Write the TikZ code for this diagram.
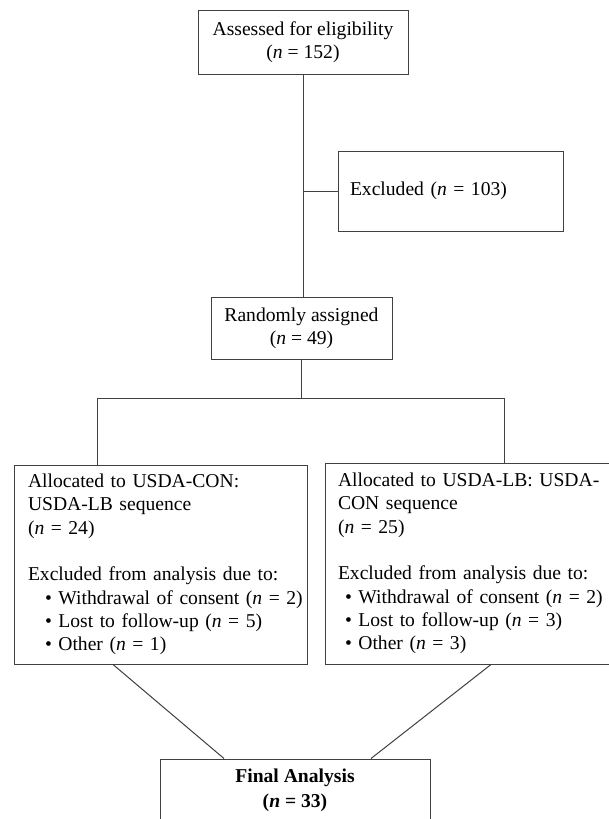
\documentclass[tikz,border=0pt]{standalone}
\usepackage{fontspec}
\setmainfont{Liberation Serif}
\begin{document}
\begin{tikzpicture}[x=1pt,y=-1pt,
  box/.style={draw=black!75, line width=1pt, rectangle, inner ysep=0pt,
    font=\fontsize{19.6}{23.3}\selectfont},
  link/.style={draw=black!75, line width=1pt}]
\useasboundingbox (0,0) rectangle (609,819);
\clip (0,0) rectangle (609,819);
\fill[white] (0,0) rectangle (609,819);
% nodes
\node[box, inner xsep=0pt, minimum width=210pt, minimum height=64pt, align=center]
  (assess) at (303,42) {Assessed for eligibility\\(\textit{n} = 152)};
\node[box, inner xsep=12pt, text width=201pt, minimum height=80pt, align=left]
  (excl) at (450.5,191) {Excluded (\textit{n} = 103)};
\node[box, inner xsep=0pt, minimum width=181pt, minimum height=62pt, align=center]
  (rand) at (301.5,328) {Randomly assigned\\(\textit{n} = 49)};
\node[box, inner xsep=14pt, text width=265pt, minimum height=199pt, align=left]
  (left) at (160.5,564.5) {\mbox{Allocated to USDA-CON:}\\\mbox{USDA-LB sequence}\\(\textit{n} = 24)\\[23.3pt]
  \mbox{Excluded from analysis due to:}\\
  \mbox{\hspace*{17pt}•~Withdrawal of consent (\textit{n} = 2)}\\
  \mbox{\hspace*{17pt}•~Lost to follow-up (\textit{n} = 5)}\\
  \mbox{\hspace*{17pt}•~Other (\textit{n} = 1)}};
\node[box, inner xsep=13pt, text width=269pt, minimum height=201pt, align=left]
  (right) at (472.5,563.5) {\mbox{Allocated to USDA-LB: USDA-}\\\mbox{CON sequence}\\(\textit{n} = 25)\\[23.3pt]
  \mbox{Excluded from analysis due to:}\\
  \mbox{\hspace*{7pt}•~Withdrawal of consent (\textit{n} = 2)}\\
  \mbox{\hspace*{7pt}•~Lost to follow-up (\textit{n} = 3)}\\
  \mbox{\hspace*{7pt}•~Other (\textit{n} = 3)}};
\node[box, inner xsep=0pt, minimum width=270pt, minimum height=63pt, align=center,
  font=\fontsize{19.6}{24.5}\selectfont\bfseries]
  (final) at (295,790.5) {Final Analysis\\(\textit{n} = 33)};
% connectors
\coordinate (lbr) at (97,398);
\coordinate (rbr) at (504,398);
\draw[link] (assess.south) -- (assess.south |- rand.north);
\draw[link] (excl.west) -- (excl.west -| assess.south);
\draw[link] (rand.south) |- (lbr) -- (lbr |- left.north);
\draw[link] (rand.south) |- (rbr) -- (rbr |- right.north);
\draw[link] ([xshift=-47.5pt]left.south) -- ([xshift=-71pt]final.north);
\draw[link] ([xshift=18.5pt]right.south) -- ([xshift=76pt]final.north);
\end{tikzpicture}
\end{document}
